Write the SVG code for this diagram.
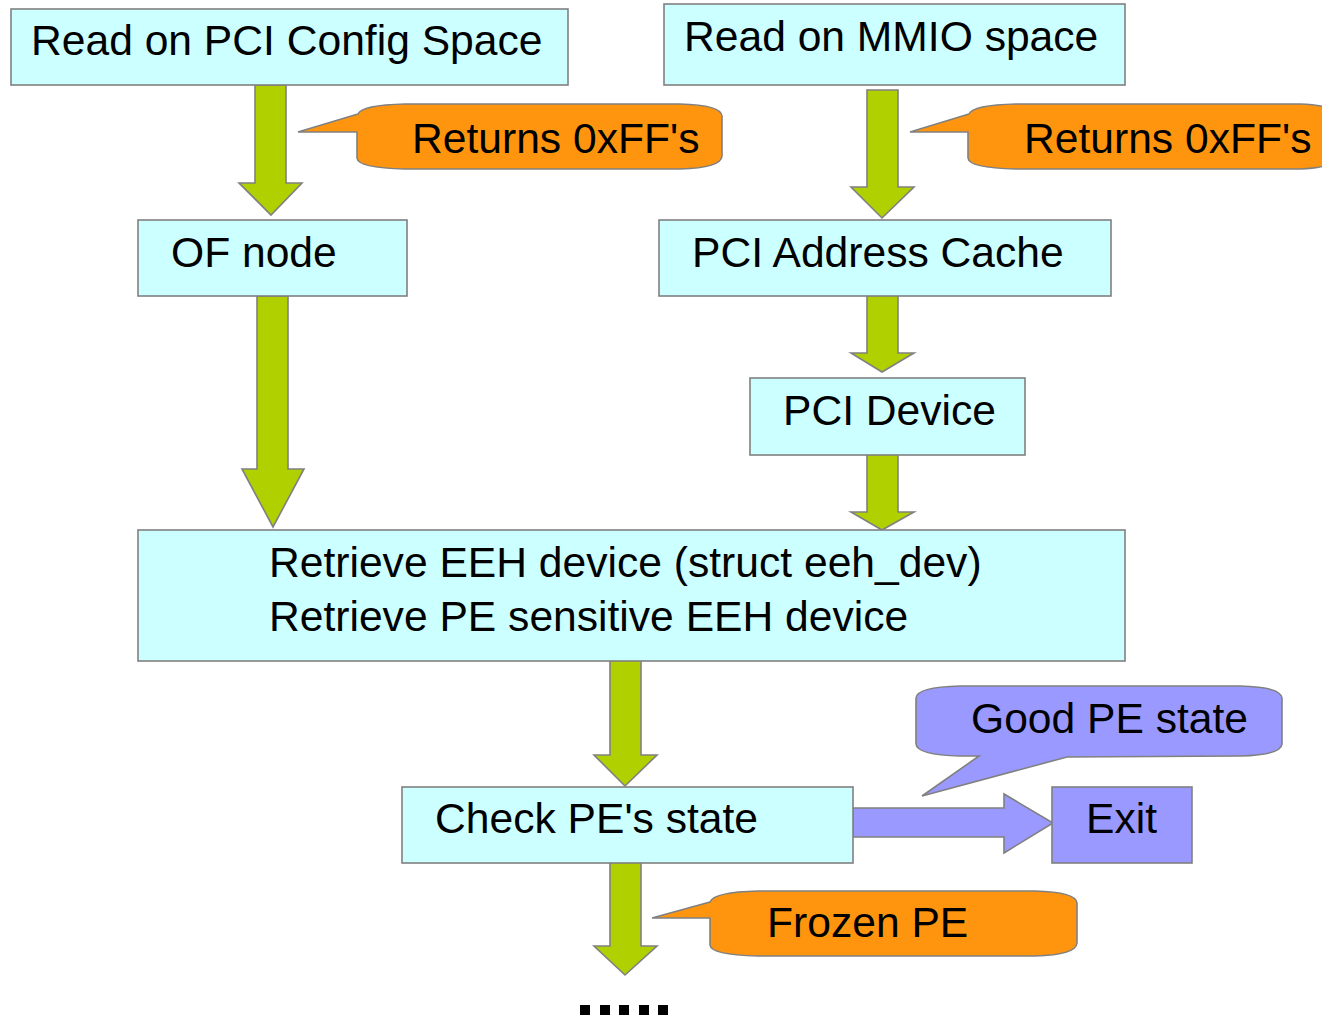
<svg xmlns="http://www.w3.org/2000/svg" width="1322" height="1016" viewBox="0 0 1322 1016">
<style>
.box{fill:#ccffff;stroke:#808080;stroke-width:1.6}
.exit{fill:#9999ff;stroke:#808080;stroke-width:1.6}
.arr{fill:#b0d000;stroke:#808080;stroke-width:1.6;stroke-linejoin:miter}
.parr{fill:#9999ff;stroke:#808080;stroke-width:1.6}
.orange{fill:#ff950e;stroke:#808080;stroke-width:1.6}
.purple{fill:#9999ff;stroke:#808080;stroke-width:1.6}
text{font-family:"Liberation Sans",Arial,sans-serif;font-size:42.6px;fill:#000}
</style>
<rect width="1322" height="1016" fill="#ffffff"/>
<g id="connectors">
<polygon class="arr" points="255,85 286,85 286,183 302,183 271,215 239,183 255,183"/>
<polygon class="arr" points="867,90 898,90 898,187 914,187 882,218 851,187 867,187"/>
<polygon class="arr" points="257,296 288,296 288,469 304,469 273,527 242,469 257,469"/>
<polygon class="arr" points="867,294 898,294 898,353 914,353 882,372 851,353 867,353"/>
<polygon class="arr" points="867,453 898,453 898,512 914,512 882,530 851,512 867,512"/>
<polygon class="arr" points="610,657 641,657 641,755 657,755 625,786 594,755 610,755"/>
<polygon class="arr" points="610,861 641,861 641,946 657,946 625,975 594,946 610,946"/>
<polygon class="parr" points="853,808 1004,808 1004,794 1053,823 1004,853 1004,837 853,837"/>
</g>
<g id="callout1">
<path class="orange" d="M358,114 L298,132 L357,132 L357,158 Q358,168 405,169 L680,169 Q721,168 722,156 L722,116 Q721,105 680,104 L405,104 Q362,105 358,114 Z"/>
<text x="412" y="153">Returns 0xFF's</text>
</g>
<g id="callout2">
<path class="orange" d="M969,114 L910,132 L968,132 L968,158 Q969,168 1016,169 L1300,169 Q1335,168 1336,156 L1336,116 Q1335,105 1300,104 L1016,104 Q973,105 969,114 Z"/>
<text x="1024" y="153">Returns 0xFF's</text>
</g>
<g id="callout-frozen">
<path class="orange" d="M710,902 L652,918 L710,918 L710,945 Q711,955 758,956 L1035,956 Q1076,955 1077,943 L1077,903 Q1076,892 1035,891 L758,891 Q714,892 710,902 Z"/>
<text x="767" y="937">Frozen PE</text>
</g>
<g id="callout-good">
<path class="purple" d="M979,756 L922,796 L1067,757 L1240,756 Q1281,755 1282,744 L1282,698 Q1281,687 1240,686 L960,686 Q917,687 916,698 L916,744 Q917,755 960,756 Z"/>
<text x="971" y="733">Good PE state</text>
</g>
<g id="node-pci-config">
<rect class="box" x="11" y="9" width="557" height="76"/>
<text x="31" y="55">Read on PCI Config Space</text>
</g>
<g id="node-mmio">
<rect class="box" x="664" y="4" width="461" height="81"/>
<text x="684" y="51">Read on MMIO space</text>
</g>
<g id="node-of">
<rect class="box" x="138" y="220" width="269" height="76"/>
<text x="171" y="267">OF node</text>
</g>
<g id="node-addr-cache">
<rect class="box" x="659" y="220" width="452" height="76"/>
<text x="692" y="267">PCI Address Cache</text>
</g>
<g id="node-pci-device">
<rect class="box" x="750" y="378" width="275" height="77"/>
<text x="783" y="425">PCI Device</text>
</g>
<g id="node-retrieve">
<rect class="box" x="138" y="530" width="987" height="131"/>
<text x="269" y="577">Retrieve EEH device (struct eeh_dev)</text>
<text x="269" y="631">Retrieve PE sensitive EEH device</text>
</g>
<g id="node-check">
<rect class="box" x="402" y="787" width="451" height="76"/>
<text x="435" y="833">Check PE's state</text>
</g>
<g id="node-exit">
<rect class="exit" x="1052" y="787" width="140" height="76"/>
<text x="1086" y="833">Exit</text>
</g>
<g id="dots">
<rect x="580" y="1005" width="10" height="10" fill="#000"/>
<rect x="600" y="1005" width="10" height="10" fill="#000"/>
<rect x="619" y="1005" width="10" height="10" fill="#000"/>
<rect x="639" y="1005" width="10" height="10" fill="#000"/>
<rect x="658" y="1005" width="10" height="10" fill="#000"/>
</g>
</svg>
